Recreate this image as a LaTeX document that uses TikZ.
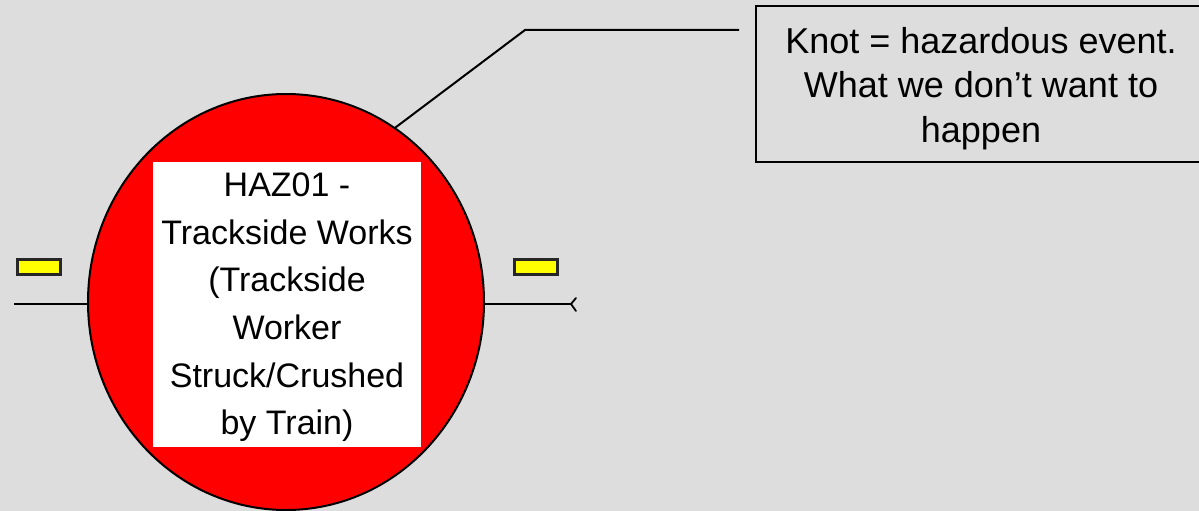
\documentclass[tikz,border=0pt]{standalone}
\usepackage{fontspec}
\setmainfont{Liberation Sans}
\usetikzlibrary{shapes.geometric,calc}
\definecolor{bg}{HTML}{DDDDDD}
\definecolor{hazred}{HTML}{FF0000}
\definecolor{barfill}{HTML}{FFFF00}
\tikzset{
  hazard/.style={ellipse, draw=black, line width=2pt, fill=hazred, inner sep=0pt, outer sep=0pt,
    minimum width=396pt, minimum height=416pt},
  labelbox/.style={rectangle, fill=white, inner sep=0pt, outer sep=0pt,
    minimum width=268pt, minimum height=285pt},
  labeltext/.style={align=center, inner sep=0pt, font=\fontsize{34}{47.6}\selectfont},
  notebox/.style={rectangle, draw=black, line width=2pt, fill=bg, inner sep=0pt, outer sep=0pt,
    minimum width=450pt, minimum height=156pt},
  notetext/.style={align=center, inner sep=0pt, font=\fontsize{36}{44.5}\selectfont},
  bar/.style={rectangle, draw=black!85, line width=2.5pt, fill=barfill, inner sep=0pt, outer sep=0pt,
    minimum width=43pt, minimum height=15pt},
  wire/.style={draw=black, line width=2pt},
}
\begin{document}
\begin{tikzpicture}[x=1pt,y=-1pt]
\useasboundingbox (0,0) rectangle (1199,511);
\clip (0,0) rectangle (1199,511);
\fill[bg] (0,0) rectangle (1199,511);
% callout box
\node[notebox] (note) at (981,84) {};
\node[notetext] (notetxt) at (981,88.4) {Knot = hazardous event.\\What we don’t want to\\happen};
% hazard knot
\node[hazard] (haz) at (286,302) {};
\node[labelbox] (lab) at (287,304.5) {};
\node[labeltext] (labtxt) at (287,307.4) {HAZ01 -\\Trackside Works\\(Trackside\\Worker\\Struck/Crushed\\by Train)};
% bars
\node[bar] (lbar) at (39,267) {};
\node[bar] (rbar) at (536,267) {};
% connectors
\coordinate (lend) at (14,304);
\coordinate (rend) at (571,304);
\coordinate (bend) at (525,30);
\coordinate (cend) at (739,30);
\draw[wire] (lend) -- (haz.west |- lend);
\draw[wire] (haz.east |- rend) -- (rend);
\draw[line width=1.8pt, line cap=round] ($(rend)+(5,-6)$) .. controls ($(rend)+(2,-3)$) .. (rend) .. controls ($(rend)+(2,3)$) .. ($(rend)+(5,7)$);
\draw[wire] (haz.58) -- (bend) -- (cend);
\end{tikzpicture}
\end{document}
